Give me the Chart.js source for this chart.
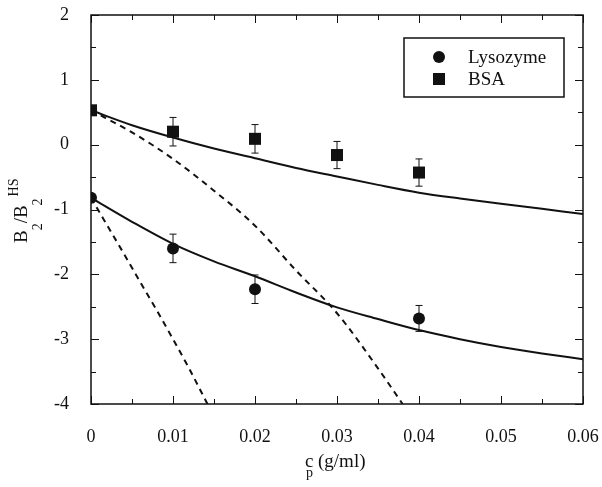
<!DOCTYPE html>
<html>
<head>
<meta charset="utf-8">
<script src="https://cdn.jsdelivr.net/npm/chart.js@4/dist/chart.umd.min.js"></script>
<style>
  html, body { margin: 0; padding: 0; background: #fff; }
  #wrap { width: 602px; height: 487px; }
</style>
</head>
<body>
<div id="wrap"><canvas id="myChart" width="602" height="487"></canvas></div>
<script>
// measured points
const lysoX = [0, 0.01, 0.02, 0.04];
const lysoY = [-0.82, -1.6, -2.23, -2.68];
const lysoErr = [0, 0.22, 0.22, 0.2];
const bsaX = [0, 0.01, 0.02, 0.03, 0.04];
const bsaY = [0.53, 0.2, 0.09, -0.16, -0.43];
const bsaErr = [0, 0.22, 0.22, 0.21, 0.21];

// solid curves
const fitX = [0, 0.005, 0.01, 0.015, 0.02, 0.025, 0.03, 0.035, 0.04, 0.045, 0.05, 0.055, 0.06];
const bsaFit = [0.53, 0.30, 0.11, -0.06, -0.21, -0.36, -0.49, -0.62, -0.74, -0.83, -0.91, -0.99, -1.07];
const lysoFit = [-0.82, -1.19, -1.53, -1.80, -2.03, -2.28, -2.51, -2.69, -2.86, -3.0, -3.12, -3.22, -3.31];

// dashed curves
const bsaDashX = [0, 0.005, 0.01, 0.015, 0.02, 0.025, 0.03, 0.035, 0.038];
const bsaDashY = [0.53, 0.19, -0.22, -0.71, -1.25, -1.94, -2.6, -3.45, -4.0];
const lysoDashX = [0, 0.002, 0.004, 0.006, 0.008, 0.01, 0.012, 0.0142];
const lysoDashY = [-0.82, -1.25, -1.68, -2.12, -2.55, -3.0, -3.46, -4.0];

const xTicks = [0, 0.01, 0.02, 0.03, 0.04, 0.05, 0.06];
const yTicks = [-4, -3, -2, -1, 0, 1, 2];

const pts = (xs, ys) => xs.map((x, i) => ({ x: x, y: ys[i] }));
const serif = '"Liberation Serif", "DejaVu Serif", serif';
const ink = '#111';

// error bars from the data arrays
const errorBars = {
    id: 'errorBars',
    afterDatasetsDraw(chart) {
        const { ctx, scales: { x, y } } = chart;
        const sets = [[lysoX, lysoY, lysoErr], [bsaX, bsaY, bsaErr]];
        ctx.save();
        ctx.strokeStyle = ink;
        ctx.lineWidth = 1;
        sets.forEach(([xs, ys, es]) => {
            xs.forEach((v, i) => {
                if (!es[i]) return;
                const px = x.getPixelForValue(v);
                const top = y.getPixelForValue(ys[i] + es[i]);
                const bot = y.getPixelForValue(ys[i] - es[i]);
                ctx.beginPath();
                ctx.moveTo(px, top); ctx.lineTo(px, bot);
                ctx.moveTo(px - 3.5, top); ctx.lineTo(px + 3.5, top);
                ctx.moveTo(px - 3.5, bot); ctx.lineTo(px + 3.5, bot);
                ctx.stroke();
            });
        });
        ctx.restore();
    }
};

// frame, inward ticks, axis titles, legend box
const frame = {
    id: 'frame',
    afterDraw(chart) {
        const { ctx, chartArea: a, scales: { x, y } } = chart;
        ctx.save();
        ctx.strokeStyle = ink;
        ctx.lineWidth = 1.5;
        ctx.strokeRect(a.left, a.top, a.right - a.left, a.bottom - a.top);

        ctx.lineWidth = 1;
        ctx.beginPath();
        for (let v = 0; v <= 0.0601; v += 0.005) {
            const px = Math.round(x.getPixelForValue(v)) + 0.5;
            const len = Math.abs(v / 0.01 - Math.round(v / 0.01)) < 1e-6 ? 8 : 5;
            ctx.moveTo(px, a.bottom); ctx.lineTo(px, a.bottom - len);
            ctx.moveTo(px, a.top); ctx.lineTo(px, a.top + len);
        }
        for (let v = -4; v <= 2.001; v += 0.5) {
            const py = Math.round(y.getPixelForValue(v)) + 0.5;
            const len = Math.abs(v - Math.round(v)) < 1e-6 ? 8 : 5;
            ctx.moveTo(a.left, py); ctx.lineTo(a.left + len, py);
            ctx.moveTo(a.right, py); ctx.lineTo(a.right - len, py);
        }
        ctx.stroke();

        // y title: B2/B2^HS rotated
        ctx.fillStyle = ink;
        ctx.textBaseline = 'alphabetic';
        ctx.textAlign = 'left';
        ctx.save();
        ctx.translate(27, 243);
        ctx.rotate(-Math.PI / 2);
        const big = '19px ' + serif, small = '14px ' + serif;
        let cx = 0;
        const piece = (t, f, dy) => { ctx.font = f; ctx.fillText(t, cx, dy); cx += ctx.measureText(t).width; };
        piece('B', big, 0);
        piece('2', small, 15);
        piece('/B', big, 0);
        piece('2', small, 15);
        cx += 2;
        piece('HS', small, -9);
        ctx.restore();

        // x title: c_p (g/ml)
        ctx.font = big;
        ctx.fillText('c', 305, 467);
        ctx.font = small;
        ctx.fillText('p', 306, 477);
        ctx.font = big;
        ctx.fillText('(g/ml)', 318, 467);

        // legend
        ctx.lineWidth = 1.5;
        ctx.strokeRect(404, 38, 160, 59);
        const ds = chart.data.datasets;
        ctx.font = '19px ' + serif;
        ctx.textBaseline = 'middle';
        ctx.beginPath();
        ctx.arc(439, 57, 6, 0, Math.PI * 2);
        ctx.fill();
        ctx.fillRect(433, 73, 12, 12);
        ctx.fillText(ds[0].label, 468, 58);
        ctx.fillText(ds[1].label, 468, 80);
        ctx.restore();
    }
};

const ctx = document.getElementById('myChart');
new Chart(ctx, {
    type: 'scatter',
    data: {
        datasets: [
            { label: 'Lysozyme', data: pts(lysoX, lysoY), pointStyle: 'circle', pointRadius: 6, backgroundColor: ink, borderColor: ink, borderWidth: 0 },
            { label: 'BSA', data: pts(bsaX, bsaY), pointStyle: 'rect', pointRadius: 8.5, backgroundColor: ink, borderColor: ink, borderWidth: 0 },
            { label: 'BSA fit', data: pts(fitX, bsaFit), showLine: true, pointRadius: 0, borderColor: ink, borderWidth: 2, cubicInterpolationMode: 'monotone' },
            { label: 'Lysozyme fit', data: pts(fitX, lysoFit), showLine: true, pointRadius: 0, borderColor: ink, borderWidth: 2, cubicInterpolationMode: 'monotone' },
            { label: 'BSA dashed', data: pts(bsaDashX, bsaDashY), showLine: true, pointRadius: 0, borderColor: ink, borderWidth: 2, borderDash: [6, 5], cubicInterpolationMode: 'monotone' },
            { label: 'Lysozyme dashed', data: pts(lysoDashX, lysoDashY), showLine: true, pointRadius: 0, borderColor: ink, borderWidth: 2, borderDash: [6, 5], cubicInterpolationMode: 'monotone' }
        ]
    },
    options: {
        responsive: false,
        animation: false,
        events: [],
        layout: { padding: { top: 15, right: 19, left: 0, bottom: 0 } },
        plugins: { legend: { display: false }, tooltip: { enabled: false } },
        scales: {
            x: {
                type: 'linear', min: 0, max: 0.06,
                afterBuildTicks: s => { s.ticks = xTicks.map(v => ({ value: v })); },
                afterFit: s => { s.height = 83; s.paddingLeft = 0; s.paddingRight = 0; },
                grid: { display: false },
                border: { display: false },
                ticks: { color: ink, font: { family: serif, size: 18 }, padding: 14, maxRotation: 0,
                    callback: v => String(Number(v.toFixed(2))) }
            },
            y: {
                type: 'linear', min: -4, max: 2,
                afterBuildTicks: s => { s.ticks = yTicks.map(v => ({ value: v })); },
                afterFit: s => { s.width = 91; s.paddingTop = 0; s.paddingBottom = 0; },
                grid: { display: false },
                border: { display: false },
                ticks: { color: ink, font: { family: serif, size: 18 }, padding: 14,
                    callback: v => String(v) }
            }
        }
    },
    plugins: [errorBars, frame]
});
</script>
</body>
</html>
